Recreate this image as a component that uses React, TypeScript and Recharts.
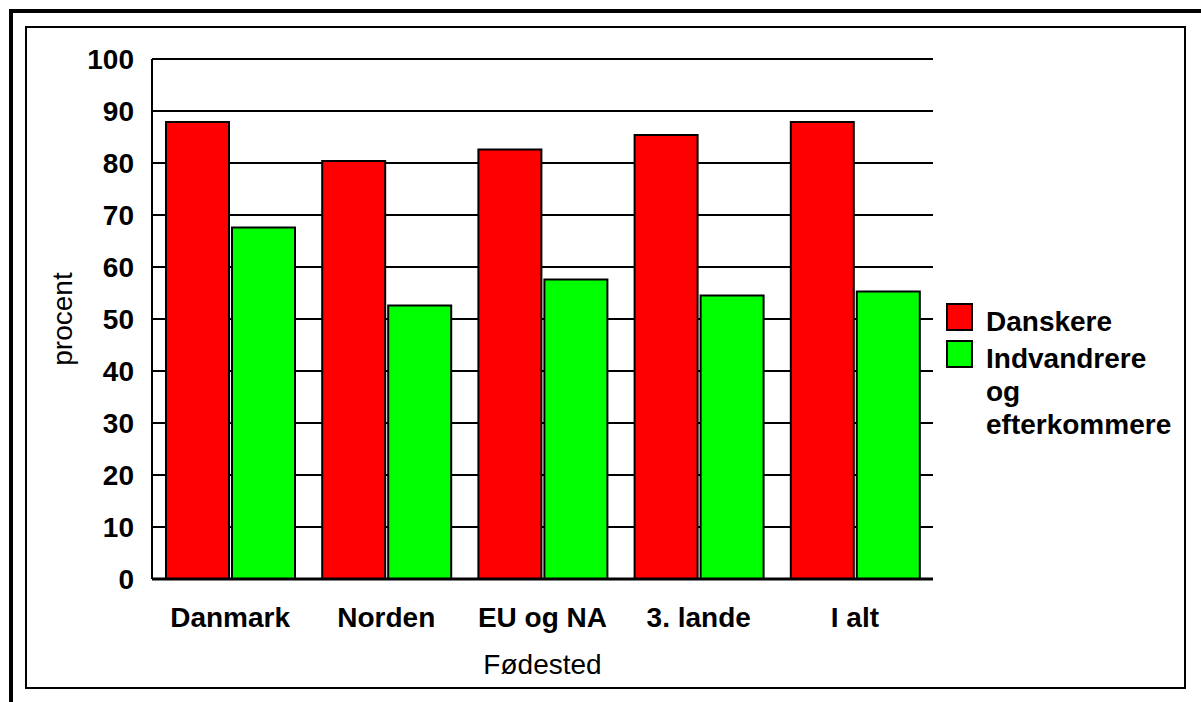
import { BarChart, Bar, XAxis, YAxis, CartesianGrid, Legend } from 'recharts'

const categories = ['Danmark', 'Norden', 'EU og NA', '3. lande', 'I alt']
const danskere = [87.9, 80.4, 82.6, 85.4, 87.9]
const indvandrere = [67.6, 52.6, 57.6, 54.5, 55.3]
const yTicks = [0, 10, 20, 30, 40, 50, 60, 70, 80, 90, 100]

const seriesNames = ['Danskere', 'Indvandrere og efterkommere']
const seriesColors = ['#ff0000', '#00ff00']

const data = categories.map((name, i) => ({
  name,
  danskere: danskere[i],
  indvandrere: indvandrere[i],
}))

const font = '"Liberation Sans", Arial, sans-serif'

function LegendBox() {
  return (
    <div style={{ fontFamily: font, fontWeight: 'bold', fontSize: 28, lineHeight: '33px', color: '#000' }}>
      {seriesNames.map((name, i) => (
        <div key={name} style={{ display: 'flex', alignItems: 'flex-start', marginBottom: 4 }}>
          <div
            style={{
              width: 23,
              height: 24,
              marginTop: -2,
              background: seriesColors[i],
              border: '2px solid #000',
              flexShrink: 0,
            }}
          />
          <div style={{ marginLeft: 13, width: 196 }}>{name}</div>
        </div>
      ))}
    </div>
  )
}

export default function App() {
  return (
    <div style={{ position: 'absolute', left: 0, top: 0, width: 1201, height: 702, overflow: 'hidden', background: '#fff' }}>
      {/* outer frame */}
      <div style={{ position: 'absolute', left: 9, top: 9, width: 1300, height: 800, border: '4px solid #000' }} />
      {/* inner frame */}
      <div style={{ position: 'absolute', left: 25, top: 26, width: 1157, height: 659, border: '2px solid #000' }} />
      <div style={{ position: 'absolute', left: 0, top: 0 }}>
        <BarChart
          width={1201}
          height={702}
          data={data}
          margin={{ top: 59, right: 268, bottom: 23, left: 32 }}
          barCategoryGap={14}
          barGap={3}
        >
          <CartesianGrid horizontal vertical={false} stroke="#000" strokeWidth={2} strokeOpacity={1} />
          <XAxis
            dataKey="name"
            height={100}
            axisLine={{ stroke: '#000', strokeWidth: 3 }}
            tickLine={false}
            tickSize={6}
            tickMargin={22}
            interval={0}
            tick={{ fill: '#000', fontFamily: font, fontWeight: 'bold', fontSize: 28 }}
            label={{
              value: 'Fødested',
              position: 'insideBottom',
              offset: 5,
              style: { fill: '#000', fontFamily: font, fontSize: 28 },
            }}
          />
          <YAxis
            domain={[0, 100]}
            ticks={yTicks}
            width={120}
            axisLine={{ stroke: '#000', strokeWidth: 2 }}
            tickLine={false}
            tickSize={6}
            tickMargin={12}
            tick={{ fill: '#000', fontFamily: font, fontWeight: 'bold', fontSize: 28 }}
            label={{
              value: 'procent',
              angle: -90,
              position: 'insideLeft',
              offset: 30,
              style: { fill: '#000', fontFamily: font, fontSize: 28, textAnchor: 'middle' },
            }}
          />
          <YAxis
            yAxisId="right"
            orientation="right"
            width={0}
            tick={false}
            tickLine={false}
            axisLine={{ stroke: '#000', strokeWidth: 2 }}
          />
          <Legend
            layout="vertical"
            align="center"
            verticalAlign="middle"
            content={() => <LegendBox />}
            wrapperStyle={{ position: 'absolute', left: 946, top: 305, width: 250 }}
          />
          <Bar dataKey="danskere" name={seriesNames[0]} fill={seriesColors[0]} stroke="#000" strokeWidth={2} isAnimationActive={false} />
          <Bar dataKey="indvandrere" name={seriesNames[1]} fill={seriesColors[1]} stroke="#000" strokeWidth={2} isAnimationActive={false} />
        </BarChart>
      </div>
    </div>
  )
}
